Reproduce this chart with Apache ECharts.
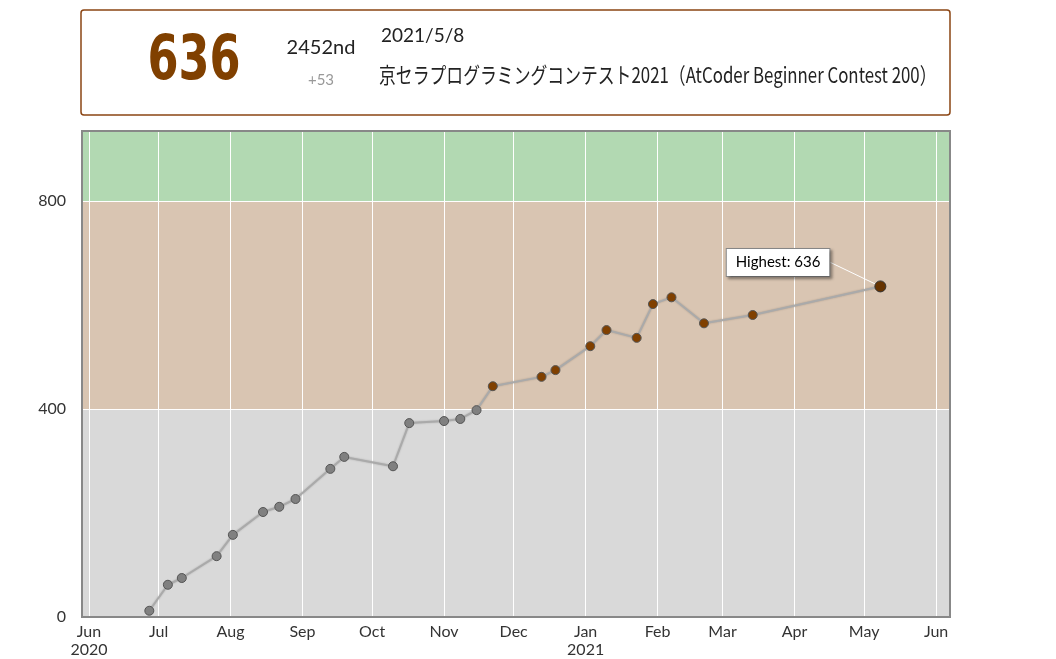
<!DOCTYPE html>
<html>
<head>
<meta charset="utf-8">
<script src="https://cdn.jsdelivr.net/npm/echarts@6/dist/echarts.min.js"></script>
<style>html,body{margin:0;padding:0;background:#fff}#main{width:1056px;height:659px}</style>
</head>
<body>
<div id="main"></div>
<script>
// レーティング履歴
var dates = ['2020-06-27','2020-07-05','2020-07-11','2020-07-26','2020-08-02','2020-08-15','2020-08-22','2020-08-29',
  '2020-09-13','2020-09-19','2020-10-10','2020-10-17','2020-11-01','2020-11-08','2020-11-15','2020-11-22',
  '2020-12-13','2020-12-19','2021-01-03','2021-01-10','2021-01-23','2021-01-30','2021-02-07','2021-02-21',
  '2021-03-14','2021-05-08'];
var ratings = [12,62,75,117,158,202,212,227,285,308,290,373,377,381,398,444,462,475,521,552,537,602,615,565,581,636];
var bandColors = ['#d9d9d9','#d9c5b2','#b2d9b2'];
var yTicks = [0,400,800];
var monthNames = ['Jan','Feb','Mar','Apr','May','Jun','Jul','Aug','Sep','Oct','Nov','Dec'];

var chart = echarts.init(document.getElementById('main'));
var best = Math.max.apply(null, ratings);
var points = dates.map(function (d, i) {
  var r = ratings[i];
  var p = { value: [d, r], itemStyle: { color: r >= 400 ? '#804000' : '#808080' } };
  if (i === dates.length - 1) {
    p.symbolSize = 11;
    p.itemStyle = { color: '#663300', borderColor: '#333', borderWidth: 1 };
    p.label = {
      show: true, formatter: 'Highest: ' + best, position: 'left',
      backgroundColor: '#fff', borderColor: '#888', borderWidth: 1,
      padding: [6, 9], color: '#000', fontSize: 15, fontFamily: 'Lato',
      shadowColor: 'rgba(0,0,0,0.4)', shadowBlur: 3, shadowOffsetX: 2, shadowOffsetY: 2
    };
    p.labelLine = { show: true, lineStyle: { color: '#fff', width: 1 } };
  }
  return p;
});

chart.setOption({
  animation: false,
  grid: { left: 82, right: 106, top: 131, bottom: 42 },
  xAxis: {
    type: 'time', min: '2020-05-29', max: '2021-06-07',
    splitNumber: 13, minInterval: 28 * 86400000,
    axisLine: { show: false }, axisTick: { show: false },
    splitLine: { show: true, lineStyle: { color: '#fff', width: 1 } },
    axisLabel: {
      color: '#333', fontSize: 16, fontFamily: 'Lato', lineHeight: 18, margin: 6,
      formatter: function (v) {
        var d = new Date(v);
        var m = d.getMonth();
        var s = monthNames[m];
        if (m === 0 || (m === 5 && d.getFullYear() === 2020)) s += '\n' + d.getFullYear();
        return s;
      }
    }
  },
  yAxis: {
    type: 'value', min: 0, max: 935, interval: 400,
    axisLine: { show: false }, axisTick: { show: false },
    splitLine: { show: true, lineStyle: { color: '#fff', width: 1 } },
    splitArea: { show: true, areaStyle: { color: bandColors, opacity: 1 } },
    axisLabel: {
      color: '#333', fontSize: 16, fontFamily: 'Lato', showMaxLabel: false, margin: 16,
      formatter: function (v) { return yTicks.indexOf(v) >= 0 ? v : ''; }
    }
  },
  series: [{
    type: 'line', data: points, symbol: 'circle', symbolSize: 9, z: 3,
    lineStyle: { color: '#aaa', width: 2, shadowColor: 'rgba(0,0,0,0.2)', shadowBlur: 2 },
    itemStyle: { borderColor: '#555', borderWidth: 1 },
    labelLayout: { dx: -40, dy: -24 }
  }],
  graphic: [
    { type: 'rect', z: 10, shape: { x: 82, y: 131, width: 868, height: 486 }, style: { fill: 'none', stroke: '#888', lineWidth: 2 } },
    { type: 'rect', shape: { x: 81, y: 10, width: 869, height: 105, r: 3 }, style: { fill: '#fff', stroke: '#8b4513', lineWidth: 1.5 } },
    { type: 'text', x: 194, y: 63, scaleX: 0.72, style: { text: String(best), fill: '#804000', font: 'bold 62px "DejaVu Sans"', align: 'center', verticalAlign: 'middle' } },
    { type: 'text', x: 321, y: 48, style: { text: '2452nd', fill: '#222', font: '20px Lato', align: 'center', verticalAlign: 'middle' } },
    { type: 'text', x: 321, y: 80, style: { text: '+53', fill: '#999', font: '15px Lato', align: 'center', verticalAlign: 'middle' } },
    { type: 'text', x: 381, y: 36, style: { text: '2021/5/8', fill: '#222', font: '19px Lato', verticalAlign: 'middle' } },
    { type: 'text', x: 379, y: 75, scaleX: 0.765, style: { text: '京セラプログラミングコンテスト2021（AtCoder Beginner Contest 200）', fill: '#222', font: '22px "Noto Sans CJK JP"', verticalAlign: 'middle' } }
  ]
});
</script>
</body>
</html>
